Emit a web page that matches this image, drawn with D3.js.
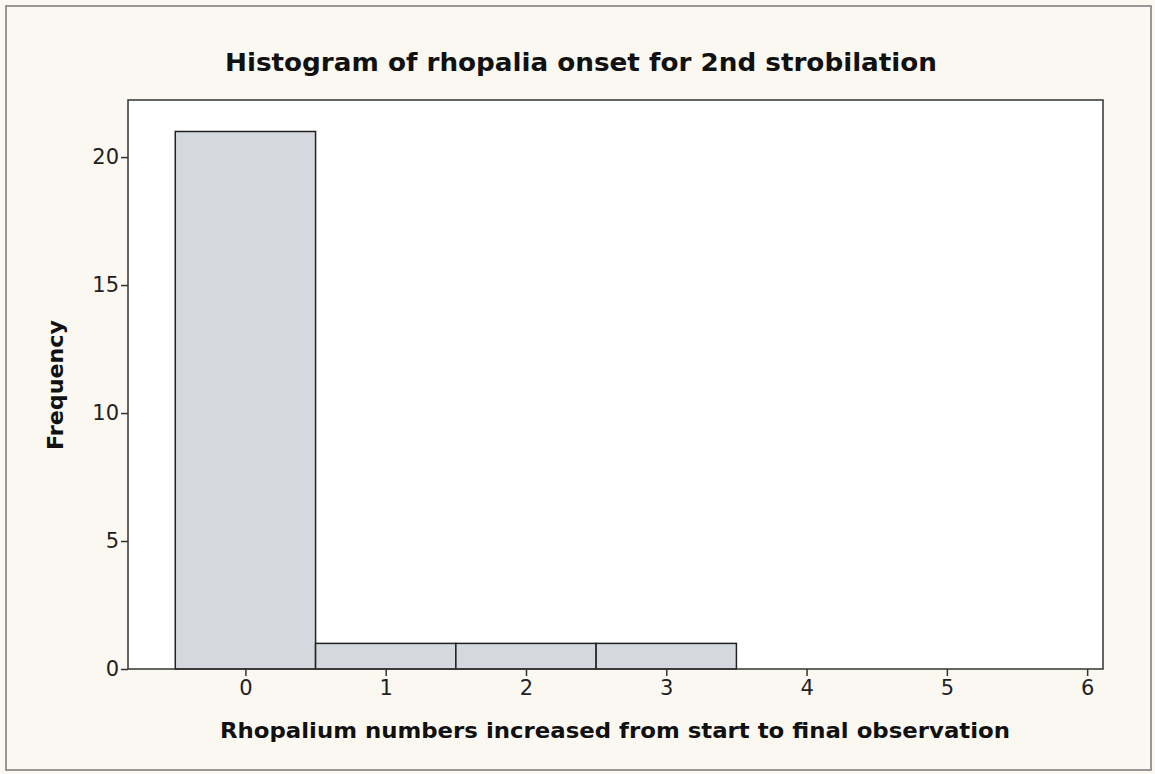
<!DOCTYPE html>
<html>
<head>
<meta charset="utf-8">
<script src="https://cdn.jsdelivr.net/npm/d3@7"></script>
<style>
  body { margin: 0; background: #fbf8f1; }
  svg { display: block; }
  .tick text { font-family: "DejaVu Sans", Verdana, sans-serif; font-size: 21px; fill: #222; }
</style>
</head>
<body>
<div id="chart"></div>
<script>
// Histogram data: rhopalium number increase vs frequency
var binValues = [0, 1, 2, 3, 4, 5, 6];
var frequencies = [21, 1, 1, 1, 0, 0, 0];
var yTicks = [0, 5, 10, 15, 20];
var xTicks = [0, 1, 2, 3, 4, 5, 6];

var svgWidth = 1155, svgHeight = 774;
var margin = { top: 100, right: 52, bottom: 105, left: 128 };
var width = svgWidth - margin.left - margin.right;
var height = svgHeight - margin.top - margin.bottom;

var svg = d3.select("#chart").append("svg")
    .attr("width", svgWidth)
    .attr("height", svgHeight);

// outer frame
svg.append("rect")
    .attr("x", 6).attr("y", 6)
    .attr("width", svgWidth - 10).attr("height", svgHeight - 10)
    .attr("fill", "#fbf8f1")
    .attr("stroke", "#777")
    .attr("stroke-width", 1.5);

var chartGroup = svg.append("g")
    .attr("transform", `translate(${margin.left}, ${margin.top})`);

// plot background
chartGroup.append("rect")
    .attr("width", width).attr("height", height)
    .attr("fill", "#ffffff");

var xScale = d3.scaleLinear()
    .domain([-0.837, 6.113])
    .range([0, width]);

var yScale = d3.scaleLinear()
    .domain([0, 22.23])
    .range([height, 0]);

// bars
chartGroup.selectAll("rect.bar")
    .data(binValues.map((b, i) => ({ bin: b, freq: frequencies[i] })).filter(d => d.freq > 0))
    .enter()
    .append("rect")
    .attr("class", "bar")
    .attr("x", d => xScale(d.bin - 0.5))
    .attr("y", d => yScale(d.freq))
    .attr("width", d => xScale(d.bin + 0.5) - xScale(d.bin - 0.5))
    .attr("height", d => yScale(0) - yScale(d.freq))
    .attr("fill", "#d5d8de")
    .attr("stroke", "#222")
    .attr("stroke-width", 1.5);

// plot frame
chartGroup.append("rect")
    .attr("width", width).attr("height", height)
    .attr("fill", "none")
    .attr("stroke", "#333")
    .attr("stroke-width", 1.5);

// axes
var xAxis = d3.axisBottom(xScale).tickValues(xTicks).tickFormat(d3.format("d"))
    .tickSize(7).tickPadding(4).tickSizeOuter(0);
var yAxis = d3.axisLeft(yScale).tickValues(yTicks).tickFormat(d3.format("d"))
    .tickSize(7).tickPadding(2).tickSizeOuter(0);

var gx = chartGroup.append("g")
    .attr("transform", `translate(0, ${height})`)
    .call(xAxis);
gx.select(".domain").remove();
gx.selectAll(".tick line").attr("stroke", "#333").attr("stroke-width", 1.5);

var gy = chartGroup.append("g").call(yAxis);
gy.select(".domain").remove();
gy.selectAll(".tick line").attr("stroke", "#333").attr("stroke-width", 1.5);

// title
svg.append("text")
    .attr("x", 581).attr("y", 71)
    .attr("text-anchor", "middle")
    .attr("font-family", "DejaVu Sans, Verdana, sans-serif")
    .attr("font-weight", "bold")
    .attr("font-size", 24)
    .attr("textLength", 712)
    .attr("lengthAdjust", "spacingAndGlyphs")
    .attr("fill", "#111")
    .text("Histogram of rhopalia onset for 2nd strobilation");

// x axis label
svg.append("text")
    .attr("x", 615).attr("y", 738)
    .attr("text-anchor", "middle")
    .attr("font-family", "DejaVu Sans, Verdana, sans-serif")
    .attr("font-weight", "bold")
    .attr("font-size", 22)
    .attr("textLength", 790)
    .attr("lengthAdjust", "spacingAndGlyphs")
    .attr("fill", "#111")
    .text("Rhopalium numbers increased from start to final observation");

// y axis label
svg.append("text")
    .attr("transform", "translate(63, 385) rotate(-90)")
    .attr("text-anchor", "middle")
    .attr("font-family", "DejaVu Sans, Verdana, sans-serif")
    .attr("font-weight", "bold")
    .attr("font-size", 22)
    .attr("textLength", 130)
    .attr("lengthAdjust", "spacingAndGlyphs")
    .attr("fill", "#111")
    .text("Frequency");
</script>
</body>
</html>
